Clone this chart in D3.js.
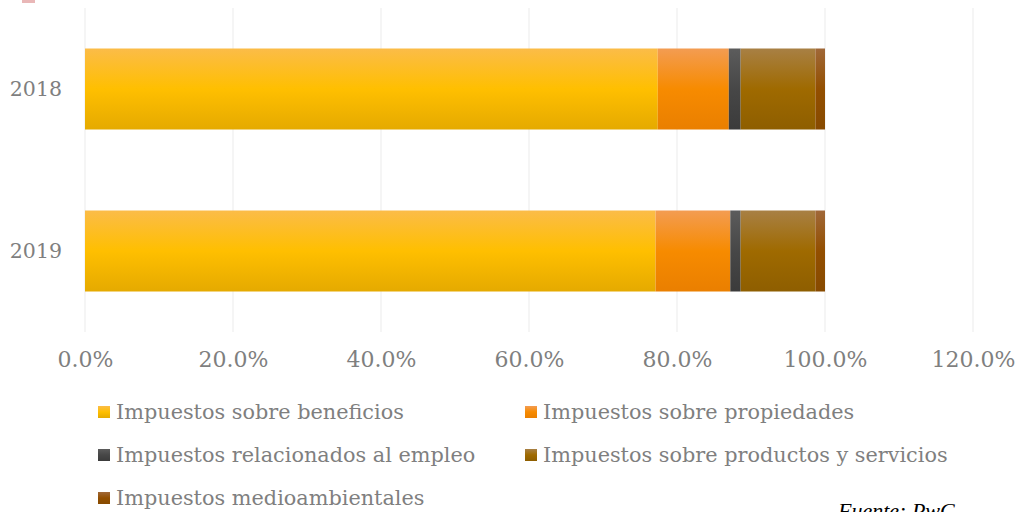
<!DOCTYPE html>
<html><head><meta charset="utf-8">
<script src="https://cdn.jsdelivr.net/npm/d3@7"></script>
<style>body{margin:0;background:#fff}svg{display:block}</style>
</head><body><svg id="c" width="1016" height="512"></svg>
<script>
const categories = ["2018", "2019"];
const seriesNames = ["Impuestos sobre beneficios","Impuestos sobre propiedades","Impuestos relacionados al empleo","Impuestos sobre productos y servicios","Impuestos medioambientales"];
const beneficios = [77.4, 77.1];
const propiedades = [9.6, 10.1];
const empleo = [1.6, 1.4];
const productos = [10.1, 10.1];
const medioambientales = [1.3, 1.3];
const xTicks = [0, 20, 40, 60, 80, 100, 120];
const source = "Fuente: PwC";

const seriesValues = [beneficios, propiedades, empleo, productos, medioambientales];
const grads = [
  ["#FBBC48", "#FFBF00", "#E5AA00"],
  ["#F39C52", "#F78B00", "#EA7F00"],
  ["#5C5C5C", "#474747", "#3B3B3B"],
  ["#A88044", "#9F6A00", "#8E5E00"],
  ["#A06838", "#934F00", "#874A00"]
];
const svg = d3.select("#c");
const defs = svg.append("defs");
grads.forEach((g, i) => {
  const lg = defs.append("linearGradient").attr("id", "g" + i).attr("x1", 0).attr("y1", 0).attr("x2", 0).attr("y2", 1);
  lg.append("stop").attr("offset", "0%").attr("stop-color", g[0]);
  lg.append("stop").attr("offset", "50%").attr("stop-color", g[1]);
  lg.append("stop").attr("offset", "100%").attr("stop-color", g[2]);
});

const font = "'DejaVu Serif', 'Liberation Serif', serif";
const x = d3.scaleLinear().domain([0, 120]).range([85, 973]);
const y = d3.scaleBand().domain(categories).range([8, 332]).paddingInner(0.5).paddingOuter(0.25);

// small mark top-left
svg.append("rect").attr("x", 22).attr("y", 0).attr("width", 13).attr("height", 3).attr("fill", "#E9B7B7");

// gridlines
svg.append("g").selectAll("line").data(xTicks).join("line")
  .attr("x1", d => x(d)).attr("x2", d => x(d)).attr("y1", 8).attr("y2", 332)
  .attr("stroke", "#F2F2F2").attr("stroke-width", 1.5);

// bars
const stackData = categories.map((c, i) => {
  const o = { cat: c };
  seriesNames.forEach((s, j) => o[s] = seriesValues[j][i]);
  return o;
});
const stacked = d3.stack().keys(seriesNames)(stackData);
svg.append("g").selectAll("g").data(stacked).join("g")
  .attr("fill", (d, i) => `url(#g${i})`)
  .selectAll("rect").data(d => d).join("rect")
  .attr("x", d => x(d[0])).attr("width", d => x(d[1]) - x(d[0]))
  .attr("y", d => y(d.data.cat)).attr("height", y.bandwidth());

// x axis labels
const xa = svg.append("g").attr("transform", "translate(0,332)")
  .call(d3.axisBottom(x).tickValues(xTicks).tickFormat(d => d.toFixed(1) + "%").tickSize(0).tickPadding(19));
xa.select(".domain").remove();
xa.selectAll("text").attr("font-family", font).attr("font-size", 22).attr("fill", "#7F7F7F");

// y axis labels
const ya = svg.append("g").attr("transform", "translate(62,0)")
  .call(d3.axisLeft(y).tickSize(0).tickPadding(0));
ya.select(".domain").remove();
ya.selectAll("text").attr("font-family", font).attr("font-size", 20.5).attr("fill", "#7F7F7F");

// legend
const legPos = [[98, 412], [525, 412], [98, 455], [525, 455], [98, 498]];
const lg = svg.append("g").selectAll("g").data(seriesNames).join("g")
  .attr("transform", (d, i) => `translate(${legPos[i][0]},${legPos[i][1]})`);
lg.append("rect").attr("x", 0).attr("y", -6).attr("width", 12).attr("height", 12).attr("fill", (d, i) => `url(#g${i})`);
lg.append("text").attr("x", 18).attr("y", 0).attr("dy", "0.35em").text(d => d)
  .attr("font-family", font).attr("font-size", 20.8).attr("fill", "#7F7F7F");

svg.append("text").attr("x", 838).attr("y", 518).text(source)
  .attr("font-family", "'Liberation Serif', serif").attr("font-style", "italic").attr("font-size", 22).attr("fill", "#000");
</script></body></html>
